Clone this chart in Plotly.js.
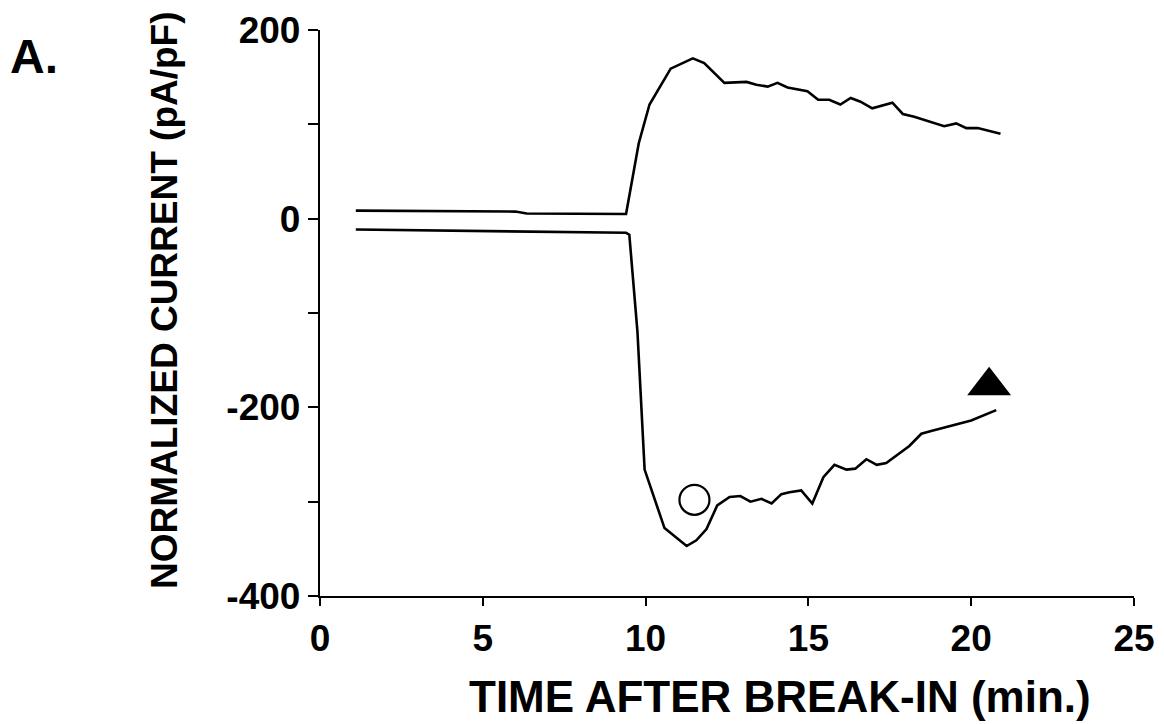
<!DOCTYPE html>
<html>
<head>
<meta charset="utf-8">
<script src="https://cdn.plot.ly/plotly-3.0.1.min.js"></script>
<style>html,body{margin:0;padding:0;background:#fff;}#chart{width:1164px;height:724px;}</style>
</head>
<body>
<div id="chart"></div>
<script>
// Outward (positive) current trace
const upperTime = [1.1, 6.0, 6.35, 9.4, 9.79, 10.12, 10.77, 11.45, 11.8, 12.42, 13.1, 13.4, 13.75, 14.05, 14.36, 14.97, 15.3, 15.64, 15.98, 16.3, 16.6, 16.96, 17.58, 17.9, 18.25, 18.8, 19.17, 19.54, 19.85, 20.2, 20.9];
const upperCurrent = [8.5, 7.5, 5.5, 5, 80, 121, 159, 170, 165, 144, 145, 142, 140, 144, 139, 135, 126, 126, 121, 128, 124, 117, 123, 111, 108, 102, 98, 101, 96, 96, 90];
// Inward (negative) current trace
const lowerTime = [1.1, 6.7, 9.4, 9.5, 9.75, 9.97, 10.58, 11.26, 11.56, 11.87, 12.2, 12.58, 12.91, 13.22, 13.56, 13.87, 14.17, 14.42, 14.78, 15.12, 15.46, 15.8, 16.17, 16.44, 16.78, 17.1, 17.39, 18.1, 18.47, 18.77, 19.23, 19.57, 20.0, 20.77];
const lowerCurrent = [-11.5, -14, -15, -17, -120, -266, -328, -347, -341, -329, -304, -295, -294, -300, -297, -302, -292, -290, -288, -302, -274, -261, -266, -265, -255, -261, -259, -241, -228, -225, -221, -218, -214, -203];
// Symbols
const circleTime = [11.5];
const circleCurrent = [-298];
const triangleTime = [20.55];
const triangleCurrent = [-177];
// Ticks
const xTickVals = [0, 5, 10, 15, 20, 25];
const xTickText = ['0', '5', '10', '15', '20', '25'];
const yTickVals = [-400, -300, -200, -100, 0, 100, 200];
const yTickText = ['-400', '', '-200', '', '0', '', '200'];
// Texts
const xTitle = 'TIME AFTER BREAK-IN (min.)';
const yTitle = 'NORMALIZED CURRENT (pA/pF)';
const panelLabel = 'A.';

const lineStyle = {color: '#000', width: 2.6};
const traces = [
  {x: upperTime, y: upperCurrent, mode: 'lines', line: lineStyle, hoverinfo: 'skip'},
  {x: lowerTime, y: lowerCurrent, mode: 'lines', line: lineStyle, hoverinfo: 'skip'},
  {x: circleTime, y: circleCurrent, mode: 'markers', marker: {symbol: 'circle-open', size: 30, color: '#000', line: {width: 2.2, color: '#000'}}},
  {x: triangleTime, y: triangleCurrent, mode: 'markers', marker: {symbol: 'triangle-up', size: 38, color: '#000'}}
];
const fontFam = 'Liberation Sans, Arial, sans-serif';
const layout = {
  width: 1164, height: 724,
  margin: {l: 320, r: 30, t: 30, b: 128},
  showlegend: false,
  paper_bgcolor: '#fff', plot_bgcolor: '#fff',
  font: {family: fontFam, color: '#000'},
  xaxis: {
    range: [0, 25], tickvals: xTickVals, ticktext: xTickText,
    showgrid: false, zeroline: false, showline: true, linecolor: '#000', linewidth: 2.2,
    ticks: 'outside', ticklen: 8, tickwidth: 2, tickcolor: '#000',
    tickfont: {size: 37, family: fontFam, weight: 'bold'}
  },
  yaxis: {
    range: [-400, 200], tickvals: yTickVals, ticktext: yTickText,
    showgrid: false, zeroline: false, showline: true, linecolor: '#000', linewidth: 2.2,
    ticks: 'outside', ticklen: 10, tickwidth: 2, tickcolor: '#000',
    tickfont: {size: 37, family: fontFam, weight: 'bold'}
  },
  annotations: [
    {text: '<b>' + panelLabel + '</b>', xref: 'paper', yref: 'paper', x: -0.383, y: 1.0, xanchor: 'left', yanchor: 'top', showarrow: false, font: {size: 48, family: fontFam, color: '#000'}, yshift: 2},
    {text: '<b>' + xTitle + '</b>', xref: 'paper', yref: 'paper', x: 0.565, y: -0.178, xanchor: 'center', yanchor: 'middle', showarrow: false, font: {size: 44, family: fontFam, color: '#000'}},
    {text: '<b>' + yTitle + '</b>', xref: 'paper', yref: 'paper', x: -0.1904, y: 0.523, xanchor: 'center', yanchor: 'middle', textangle: -90, showarrow: false, font: {size: 37, family: fontFam, color: '#000'}}
  ]
};
Plotly.newPlot('chart', traces, layout, {displayModeBar: false, staticPlot: true});
</script>
</body>
</html>
